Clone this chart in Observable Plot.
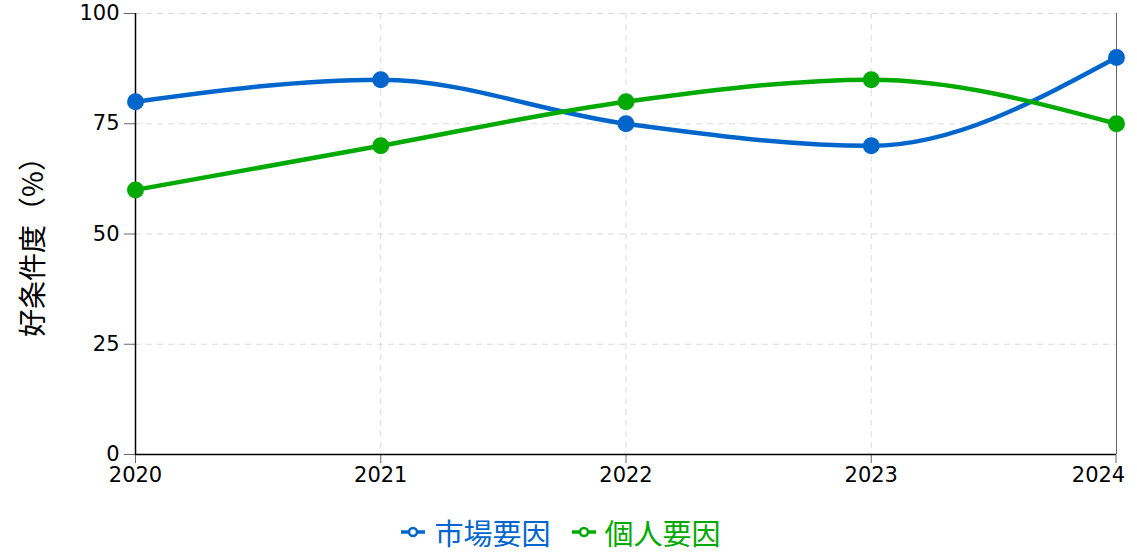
<!DOCTYPE html>
<html><head><meta charset="utf-8">
<script src="https://cdn.jsdelivr.net/npm/d3@7"></script>
<script src="https://cdn.jsdelivr.net/npm/@observablehq/plot@0.6"></script>
<style>
body{margin:0;background:#fff;font-family:"Noto Sans CJK JP","Noto Sans",sans-serif;}
#wrap{position:relative;width:1137px}
#chart svg{display:block}
#ylabel{position:absolute;left:31px;top:240px;transform:translate(-50%,-50%) rotate(-90deg);font-size:28px;white-space:nowrap;color:#000;line-height:1}
#legend{display:flex;justify-content:center;gap:20px;margin-top:12px;font-size:29px;line-height:40px;padding-right:16px}
#legend span{display:flex;align-items:center;gap:8px}
</style></head><body>
<div id="wrap">
<div id="chart"></div>
<div id="ylabel"></div>
<div id="legend"></div>
</div>
<script>
const years = [2020, 2021, 2022, 2023, 2024];
const seriesNames = ["市場要因", "個人要因"];
const marketValues = [80, 85, 75, 70, 90];
const personalValues = [60, 70, 80, 85, 75];
const colors = ["#0066cc", "#00aa00"];
const yTicks = [0, 25, 50, 75, 100];
const yLabel = "好条件度（%）";

const data = [
  ...years.map((y, i) => ({year: y, value: marketValues[i], series: seriesNames[0]})),
  ...years.map((y, i) => ({year: y, value: personalValues[i], series: seriesNames[1]}))
];

const chart = Plot.plot({
  width: 1137,
  height: 500,
  marginLeft: 135,
  marginRight: 21,
  marginTop: 13,
  marginBottom: 46,
  style: {fontFamily: "'DejaVu Sans', sans-serif", fontSize: "21px", color: "#000", overflow: "visible"},
  x: {domain: [2020, 2024], ticks: years, tickFormat: "d", label: null},
  y: {domain: [0, 100], ticks: yTicks, label: null},
  color: {domain: seriesNames, range: colors},
  marks: [
    Plot.gridX(years, {stroke: "#ccc", strokeOpacity: 0.7, strokeDasharray: "6,5"}),
    Plot.gridY(yTicks, {stroke: "#ccc", strokeOpacity: 0.7, strokeDasharray: "6,5"}),
    Plot.axisX({ticks: years.slice(0, -1), tickFormat: "d", tickSize: 9, tickPadding: 4, stroke: "#666", fontSize: 21, fill: "#000", label: null}),
    Plot.axisX({ticks: years.slice(-1), tickFormat: "d", tickSize: 0, tickPadding: 13, fontSize: 21, fill: "#000", label: null, dx: -18}),
    Plot.tickX(years.slice(-1), {x: d => d, y1: 0, y2: 0, stroke: "#666"}),
    Plot.axisY({ticks: yTicks, tickSize: 11, tickPadding: 5, stroke: "#666", fontSize: 21, fill: "#000", label: null}),
    Plot.ruleY([0], {stroke: "#000", strokeWidth: 1.5}),
    Plot.ruleX([2020], {stroke: "#000", strokeWidth: 1.5}),
    Plot.line(data, {x: "year", y: "value", stroke: "series", z: "series", strokeWidth: 4.5, curve: "monotone-x"}),
    Plot.dot(data, {x: "year", y: "value", fill: "series", r: 8.5})
  ]
});
document.getElementById("chart").appendChild(chart);
// draw the last x tick line in place (its label is shifted left)
const xs = chart.scale("x"), ys = chart.scale("y");
const ns = "http://www.w3.org/2000/svg";
const ln = document.createElementNS(ns, "line");
const x24 = xs.apply(years[years.length - 1]), y0 = ys.apply(0);
ln.setAttribute("x1", x24); ln.setAttribute("x2", x24);
ln.setAttribute("y1", y0); ln.setAttribute("y2", y0 + 9);
ln.setAttribute("stroke", "#666");
chart.appendChild(ln);
document.getElementById("ylabel").textContent = yLabel;

const legend = document.getElementById("legend");
seriesNames.forEach((name, i) => {
  const s = document.createElement("span");
  s.style.color = colors[i];
  s.innerHTML = `<svg width="26" height="14"><line x1="1" y1="7" x2="25" y2="7" stroke="${colors[i]}" stroke-width="3.5"/><circle cx="13" cy="7" r="4" fill="#fff" stroke="${colors[i]}" stroke-width="2.5"/></svg>${name}`;
  legend.appendChild(s);
});
</script>
</body></html>
